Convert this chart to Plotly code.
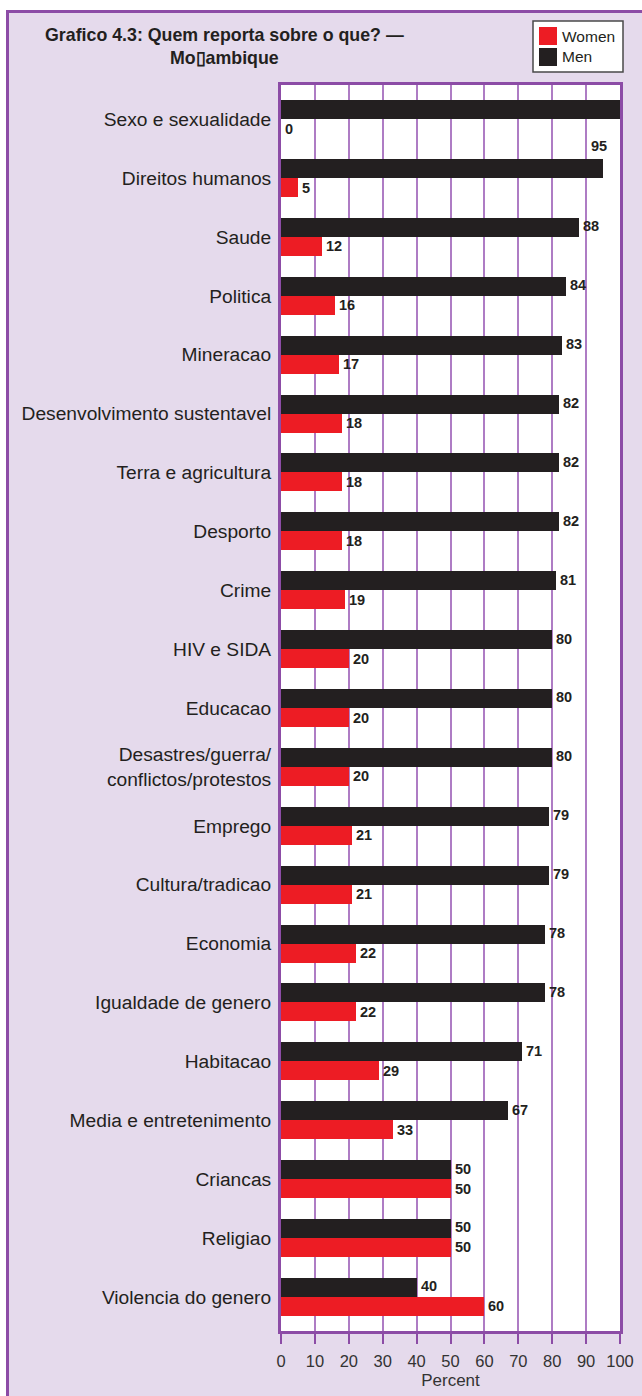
import plotly.graph_objects as go

# Topics, top to bottom
categories = [
    "Sexo e sexualidade", "Direitos humanos", "Saude", "Politica", "Mineracao",
    "Desenvolvimento sustentavel", "Terra e agricultura", "Desporto", "Crime",
    "HIV e SIDA", "Educacao", "Desastres/guerra/<br>conflictos/protestos",
    "Emprego", "Cultura/tradicao", "Economia", "Igualdade de genero",
    "Habitacao", "Media e entretenimento", "Criancas", "Religiao",
    "Violencia do genero",
]
women = [0, 5, 12, 16, 17, 18, 18, 18, 19, 20, 20, 20, 21, 21, 22, 22, 29, 33, 50, 50, 60]
men = [100, 95, 88, 84, 83, 82, 82, 82, 81, 80, 80, 80, 79, 79, 78, 78, 71, 67, 50, 50, 40]
x_ticks = list(range(0, 101, 10))

series_names = ["Women", "Men"]
RED = "#ED1C24"
BLACK = "#231F20"
LAVENDER = "#E5DAEC"
PURPLE = "#8C4CA6"
GRID = "#AE7CC4"
TEXT = "#231F20"
FONT = "Liberation Sans, Arial, Helvetica, sans-serif"

W, H = 642, 1396
ML, MR, MT, MB = 281, 22, 85, 65
PW, PH = W - ML - MR, H - MT - MB


def xp(px):
    return (px - ML) / PW


def yp(py):
    return 1 - (py - MT) / PH


pos = list(range(len(categories)))
BAR_W = 0.323

fig = go.Figure()
fig.add_trace(go.Bar(
    y=pos, x=men, orientation="h", name="Men", marker_color=BLACK,
    marker_line_width=0, width=BAR_W, offset=-BAR_W, showlegend=False,
))
fig.add_trace(go.Bar(
    y=pos, x=women, orientation="h", name="Women", marker_color=RED,
    marker_line_width=0, width=BAR_W, offset=0, showlegend=False,
))

annotations = []
label_font = dict(family=FONT, size=14.5, color=TEXT)
for i, (w, m) in enumerate(zip(women, men)):
    # men value labels (the full-width bar carries none)
    if m < 100:
        if m > 90:
            annotations.append(dict(x=m, y=i - BAR_W, xref="x", yref="y", text=f"<b>{m}</b>",
                                    showarrow=False, xanchor="right", yanchor="bottom",
                                    xshift=6, yshift=3, font=label_font))
        else:
            annotations.append(dict(x=m, y=i - BAR_W / 2, xref="x", yref="y", text=f"<b>{m}</b>",
                                    showarrow=False, xanchor="left", xshift=2, yshift=1,
                                    font=label_font))
    # women value labels
    annotations.append(dict(x=w, y=i + BAR_W / 2, xref="x", yref="y", text=f"<b>{w}</b>",
                            showarrow=False, xanchor="left", xshift=2, font=label_font))

# Title
title_font = dict(family="Liberation Sans Narrow, Arial Narrow, " + FONT, size=17.8, color=TEXT)
annotations.append(dict(x=xp(224), y=yp(46), xref="paper", yref="paper",
                        text="<b>Grafico 4.3: Quem reporta sobre o que? —<br>Mo\u25afambique</b>",
                        showarrow=False, xanchor="center", yanchor="middle", align="center",
                        font=title_font))

legend_colors = [RED, BLACK]
shapes = [
    # white page margins around the frame
    dict(type="rect", xref="paper", yref="paper", x0=xp(0), x1=xp(W), y0=yp(0), y1=yp(10),
         fillcolor="white", line_width=0, layer="above"),
    dict(type="rect", xref="paper", yref="paper", x0=xp(0), x1=xp(6), y0=yp(0), y1=yp(H),
         fillcolor="white", line_width=0, layer="above"),
    # purple frame edges
    dict(type="line", xref="paper", yref="paper", x0=xp(7.5), x1=xp(7.5), y0=yp(10), y1=yp(H),
         line=dict(color=PURPLE, width=3), layer="above"),
    dict(type="line", xref="paper", yref="paper", x0=xp(6), x1=xp(W), y0=yp(11.5), y1=yp(11.5),
         line=dict(color=PURPLE, width=3), layer="above"),
    # legend box
    dict(type="rect", xref="paper", yref="paper", x0=xp(533), x1=xp(623), y0=yp(21), y1=yp(72),
         fillcolor="white", line=dict(color="#4A4A4A", width=1.5), layer="above"),
]
for k, (name, col) in enumerate(zip(series_names, legend_colors)):
    top = 27 + k * 21
    shapes.append(dict(type="rect", xref="paper", yref="paper", x0=xp(539), x1=xp(557),
                       y0=yp(top), y1=yp(top + 18), fillcolor=col, line_width=0, layer="above"))
    annotations.append(dict(x=xp(560), y=yp(top + 9), xref="paper", yref="paper", text=name,
                            showarrow=False, xanchor="left", yanchor="middle",
                            font=dict(family=FONT, size=15.5, color=TEXT)))

fig.update_layout(
    width=W, height=H,
    margin=dict(l=ML, r=MR, t=MT, b=MB, pad=0, autoexpand=False),
    paper_bgcolor=LAVENDER,
    plot_bgcolor="white",
    bargap=0, barmode="overlay",
    annotations=annotations,
    shapes=shapes,
    font=dict(family=FONT, color=TEXT),
)
fig.update_xaxes(
    range=[0, 100], tickvals=x_ticks, ticktext=[str(t) for t in x_ticks],
    automargin=False,
    showgrid=True, gridcolor=GRID, gridwidth=2,
    showline=True, linecolor=PURPLE, linewidth=3, mirror=True,
    ticks="outside", ticklen=10, tickcolor=PURPLE, tickwidth=1.5,
    ticklabelstandoff=3,
    tickfont=dict(size=16.5, color="#333333"),
    title=dict(text="Percent", font=dict(size=17, color="#333333"), standoff=6),
    zeroline=False, fixedrange=True,
)
fig.update_yaxes(
    range=[len(categories) - 1 + 0.58, -0.58], tickvals=pos, ticktext=categories,
    automargin=False,
    showgrid=False, zeroline=False,
    showline=True, linecolor=PURPLE, linewidth=3, mirror=True,
    ticks="", ticklabelstandoff=3,
    tickfont=dict(size=19.2, color=TEXT), fixedrange=True,
)

fig.write_html("out.html")
